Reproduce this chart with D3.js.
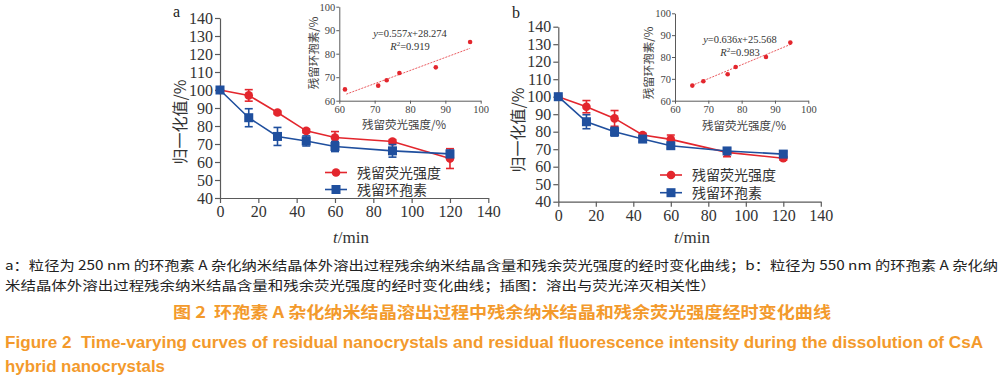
<!DOCTYPE html>
<html><head><meta charset="utf-8">
<script src="https://cdn.jsdelivr.net/npm/d3@7"></script>
<style>body{margin:0;background:#fff}svg{display:block}text{white-space:pre}</style>
</head><body>
<svg id="c" width="1004" height="381"></svg>
<script>
const times = [0, 15, 30, 45, 60, 90, 120];
const aFluor = [100, 97.0, 87.5, 77.3, 73.6, 71.4, 61.9];
const aFluorErr = [0, 3.2, 0.8, 1.0, 3.3, 1.0, 5.5];
const aCsa = [100, 84.6, 74.2, 71.7, 68.6, 66.2, 64.5];
const aCsaErr = [0, 5.0, 5.0, 2.8, 2.8, 3.5, 2.0];
const bFluor = [100, 94.3, 87.6, 78.1, 75.6, 68.2, 64.8];
const bFluorErr = [0, 3.5, 4.5, 1.0, 2.5, 2.5, 1.0];
const bCsa = [100, 85.7, 80.0, 75.8, 72.0, 69.0, 67.2];
const bCsaErr = [0, 4.0, 2.5, 1.5, 1.5, 1.5, 1.5];
const aInsetX = [61.6, 71.0, 73.4, 77.0, 87.3, 97.0];
const aInsetY = [64.8, 66.4, 68.7, 71.8, 74.2, 85.0];
const bInsetX = [65.2, 68.5, 75.8, 78.2, 87.3, 94.6];
const bInsetY = [66.9, 68.9, 72.1, 75.4, 80.0, 86.6];
const aFit = {slope: 0.557, icpt: 28.274, r2: "0.919", from: 62, to: 97};
const bFit = {slope: 0.636, icpt: 25.568, r2: "0.983", from: 65, to: 95};
const xTicks = [0, 20, 40, 60, 80, 100, 120, 140];
const yTicks = [40, 50, 60, 70, 80, 90, 100, 110, 120, 130, 140];
const insetTicks = [60, 70, 80, 90, 100];
const seriesNames = ["残留荧光强度", "残留环孢素"];
const yTitle = "归一化值/%";
const insetXTitle = "残留荧光强度/%";
const insetYTitle = "残留环孢素/%";
const captionLines = [
  "a：粒径为 250 nm 的环孢素 A 杂化纳米结晶体外溶出过程残余纳米结晶含量和残余荧光强度的经时变化曲线；b：粒径为 550 nm 的环孢素 A 杂化纳",
  "米结晶体外溶出过程残余纳米结晶含量和残余荧光强度的经时变化曲线；插图：溶出与荧光淬灭相关性）"
];
const titleCn = "图 2  环孢素 A 杂化纳米结晶溶出过程中残余纳米结晶和残余荧光强度经时变化曲线";
const titleEn = ["Figure 2  Time-varying curves of residual nanocrystals and residual fluorescence intensity during the dissolution of CsA", "hybrid nanocrystals"];

const RED = "#e3262d", BLUE = "#1f4f9e", AX = "#5a5a5a", ORANGE = "#f39a2c";
const serif = "'Liberation Serif','Times New Roman',serif";
const cjk = "'Noto Sans CJK SC',sans-serif";
const mixed = "'Liberation Serif','Noto Sans CJK SC',serif";
const svg = d3.select("#c");

function panel(cfg) {
  const g = svg.append("g");
  const x = d3.scaleLinear().domain([0, 140]).range(cfg.xr);
  const y = d3.scaleLinear().domain([40, 140]).range(cfg.yr);
  const xa = g.append("g").attr("transform", `translate(0,${cfg.yr[0]})`)
    .call(d3.axisBottom(x).tickValues(xTicks).tickSize(5).tickSizeOuter(0).tickPadding(3));
  const ya = g.append("g").attr("transform", `translate(${cfg.xr[0]},0)`)
    .call(d3.axisLeft(y).tickValues(yTicks).tickSize(5).tickSizeOuter(0).tickPadding(2));
  [xa, ya].forEach(a => {
    a.selectAll("path,line").attr("stroke", AX).attr("stroke-width", 1.2);
    a.selectAll("text").attr("font-family", serif).attr("font-size", 16).attr("fill", "#333");
  });
  const series = [
    {v: cfg.fluor, e: cfg.fluorErr, c: RED, shape: "circle"},
    {v: cfg.csa, e: cfg.csaErr, c: BLUE, shape: "square"}
  ];
  const line = d3.line().x((d, i) => x(times[i])).y(d => y(d));
  series.forEach(s => {
    const sg = g.append("g");
    sg.append("path").datum(s.v).attr("d", line).attr("fill", "none").attr("stroke", s.c).attr("stroke-width", 1.6);
    s.v.forEach((v, i) => {
      const e = s.e[i];
      if (e > 0) {
        const cx = x(times[i]);
        sg.append("line").attr("x1", cx).attr("x2", cx).attr("y1", y(v - e)).attr("y2", y(v + e)).attr("stroke", s.c).attr("stroke-width", 1.6);
        [v - e, v + e].forEach(w => sg.append("line").attr("x1", cx - 4).attr("x2", cx + 4).attr("y1", y(w)).attr("y2", y(w)).attr("stroke", s.c).attr("stroke-width", 1.6));
      }
      if (s.shape === "circle") sg.append("circle").attr("cx", x(times[i])).attr("cy", y(v)).attr("r", 4.3).attr("fill", s.c);
      else sg.append("rect").attr("x", x(times[i]) - 4.5).attr("y", y(v) - 4.5).attr("width", 9).attr("height", 9).attr("fill", s.c);
    });
  });
  cfg.legend.forEach((L, i) => {
    const c = i === 0 ? RED : BLUE;
    g.append("line").attr("x1", L.x).attr("x2", L.x + 22).attr("y1", L.y).attr("y2", L.y).attr("stroke", c).attr("stroke-width", 1.6);
    if (i === 0) g.append("circle").attr("cx", L.x + 11).attr("cy", L.y).attr("r", 4.3).attr("fill", c);
    else g.append("rect").attr("x", L.x + 6.5).attr("y", L.y - 4.5).attr("width", 9).attr("height", 9).attr("fill", c);
    g.append("text").attr("x", L.x + 32).attr("y", L.y + 5).attr("font-family", mixed).attr("font-size", 14).attr("fill", "#333").text(seriesNames[i]);
  });
  g.append("text").attr("transform", `translate(${cfg.ytx},${cfg.yty}) rotate(-90)`).attr("text-anchor", "middle")
    .attr("font-family", cjk).attr("font-size", 16).attr("fill", "#333").text(yTitle);
  const xt = g.append("text").attr("x", cfg.xtx).attr("y", 243).attr("text-anchor", "middle").attr("font-family", serif).attr("font-size", 17).attr("fill", "#333");
  xt.append("tspan").attr("font-style", "italic").text("t");
  xt.append("tspan").text("/min");
  g.append("text").attr("x", cfg.lab.x).attr("y", cfg.lab.y).attr("font-family", serif).attr("font-size", 16).attr("fill", "#222").text(cfg.lab.t);

  const ix = d3.scaleLinear().domain([60, 100]).range(cfg.ixr);
  const iy = d3.scaleLinear().domain([60, 100]).range(cfg.iyr);
  const ixa = g.append("g").attr("transform", `translate(0,${cfg.iyr[0]})`)
    .call(d3.axisBottom(ix).tickValues(insetTicks).tickSize(3).tickSizeOuter(0).tickPadding(2));
  const iya = g.append("g").attr("transform", `translate(${cfg.ixr[0]},0)`)
    .call(d3.axisLeft(iy).tickValues(insetTicks).tickSize(3).tickSizeOuter(0).tickPadding(1));
  [ixa, iya].forEach(a => {
    a.selectAll("path,line").attr("stroke", AX).attr("stroke-width", 1);
    a.selectAll("text").attr("font-family", serif).attr("font-size", 10.5).attr("fill", "#444");
  });
  const f = cfg.fit;
  g.append("line").attr("x1", ix(f.from)).attr("x2", ix(f.to)).attr("y1", iy(f.slope * f.from + f.icpt)).attr("y2", iy(f.slope * f.to + f.icpt))
    .attr("stroke", RED).attr("stroke-width", 0.9).attr("stroke-dasharray", "2,1.2").attr("opacity", 0.85);
  cfg.ipx.forEach((vx, i) => g.append("circle").attr("cx", ix(vx)).attr("cy", iy(cfg.ipy[i])).attr("r", 2.3).attr("fill", RED));
  const eq = g.append("text").attr("x", cfg.eq.x).attr("y", cfg.eq.y).attr("text-anchor", "middle").attr("font-family", serif).attr("font-size", 10.5).attr("fill", "#333");
  eq.append("tspan").attr("font-style", "italic").text("y");
  eq.append("tspan").text("=" + f.slope);
  eq.append("tspan").attr("font-style", "italic").text("x");
  eq.append("tspan").text("+" + f.icpt);
  const r2 = g.append("text").attr("x", cfg.eq.x).attr("y", cfg.eq.y + 13).attr("text-anchor", "middle").attr("font-family", serif).attr("font-size", 10.5).attr("fill", "#333");
  r2.append("tspan").attr("font-style", "italic").text("R");
  r2.append("tspan").attr("font-size", 7).attr("dy", -4).text("2");
  r2.append("tspan").attr("dy", 4).text("=" + f.r2);
  g.append("text").attr("transform", `translate(${cfg.iyt.x},${cfg.iyt.y}) rotate(-90)`).attr("text-anchor", "middle")
    .attr("font-family", cjk).attr("font-size", 11.5).attr("fill", "#444").text(insetYTitle);
  g.append("text").attr("x", cfg.ixt.x).attr("y", cfg.ixt.y).attr("text-anchor", "middle")
    .attr("font-family", cjk).attr("font-size", 11.5).attr("fill", "#444").text(insetXTitle);
}

panel({
  xr: [220, 488.3], yr: [198, 18],
  fluor: aFluor, fluorErr: aFluorErr, csa: aCsa, csaErr: aCsaErr,
  legend: [{x: 325, y: 172.5}, {x: 325, y: 189.5}],
  ytx: 186, yty: 122, xtx: 351, lab: {x: 173, y: 17, t: "a"},
  ixr: [339.3, 480.7], iyr: [100.7, 6.7], fit: aFit, ipx: aInsetX, ipy: aInsetY,
  eq: {x: 410, y: 37}, iyt: {x: 318, y: 53}, ixt: {x: 404, y: 129}
});
panel({
  xr: [558.3, 820.8], yr: [201.7, 26.7],
  fluor: bFluor, fluorErr: bFluorErr, csa: bCsa, csaErr: bCsaErr,
  legend: [{x: 660, y: 175}, {x: 660, y: 192.7}],
  ytx: 524, yty: 130, xtx: 692, lab: {x: 512, y: 18, t: "b"},
  ixr: [675, 808.3], iyr: [100.7, 13.3], fit: bFit, ipx: bInsetX, ipy: bInsetY,
  eq: {x: 740, y: 43}, iyt: {x: 653, y: 63}, ixt: {x: 744, y: 130}
});

svg.append("text").attr("x", 5).attr("y", 270).attr("font-family", cjk).attr("font-size", 13).attr("fill", "#222")
  .attr("textLength", 993).attr("lengthAdjust", "spacingAndGlyphs").text(captionLines[0]);
svg.append("text").attr("x", 5).attr("y", 290).attr("font-family", cjk).attr("font-size", 13).attr("fill", "#222")
  .attr("textLength", 711).attr("lengthAdjust", "spacingAndGlyphs").text(captionLines[1]);
svg.append("text").attr("x", 173).attr("y", 318).attr("font-family", cjk).attr("font-weight", "bold").attr("font-size", 16).attr("fill", ORANGE)
  .attr("textLength", 658).attr("lengthAdjust", "spacingAndGlyphs").text(titleCn);
svg.append("text").attr("x", 5).attr("y", 348).attr("font-family", "'Liberation Sans Narrow','Liberation Sans',Arial,sans-serif").attr("font-weight", "bold").attr("font-size", 17).attr("fill", ORANGE)
  .attr("textLength", 978).attr("lengthAdjust", "spacingAndGlyphs").text(titleEn[0]);
svg.append("text").attr("x", 5).attr("y", 372).attr("font-family", "'Liberation Sans Narrow','Liberation Sans',Arial,sans-serif").attr("font-weight", "bold").attr("font-size", 17).attr("fill", ORANGE)
  .attr("textLength", 160).attr("lengthAdjust", "spacingAndGlyphs").text(titleEn[1]);
</script>
</body></html>
